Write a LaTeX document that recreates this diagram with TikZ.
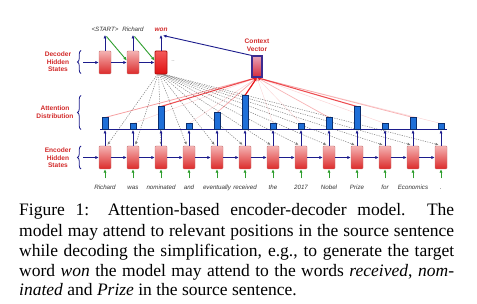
\documentclass[tikz,border=0pt]{standalone}
\usepackage{fontspec}
\setmainfont{Liberation Serif}
\newfontfamily\diag{Liberation Sans}
\usetikzlibrary{arrows.meta,decorations.pathreplacing,calc,backgrounds}
\definecolor{dblue}{HTML}{1C1C8C}
\definecolor{lred}{HTML}{D22A2A}
\definecolor{cellTop}{HTML}{F4B3B3}
\definecolor{cellBot}{HTML}{DC2A2A}
\definecolor{cellBorder}{HTML}{C87878}
\definecolor{wonTop}{HTML}{F45A5A}
\definecolor{wonBot}{HTML}{E01010}
\definecolor{wonBorder}{HTML}{B01010}
\definecolor{barblue}{HTML}{1F6FD8}
\definecolor{barBorder}{HTML}{0B2E6E}
\definecolor{dgreen}{HTML}{2E9E2E}
\definecolor{ctxBorder}{HTML}{3C2C90}
\definecolor{ctxTop}{HTML}{E6A3B8}
\definecolor{ctxBot}{HTML}{D42A3A}
\definecolor{wordgray}{HTML}{333333}
\definecolor{attred}{HTML}{E8161B}
\definecolor{dashgray}{HTML}{7A7A7A}
\begin{document}
\begin{tikzpicture}[x=1pt,y=-1pt,
  cell/.style={draw=cellBorder,line width=0.4pt,top color=cellTop,bottom color=cellBot,minimum width=12pt,minimum height=23pt,inner sep=0pt,rounded corners=1pt},
  woncell/.style={cell,draw=wonBorder,line width=0.8pt,top color=wonTop,bottom color=wonBot},
  ctxbox/.style={draw=ctxBorder,line width=1.2pt,top color=ctxTop,bottom color=ctxBot,minimum width=10pt,minimum height=21pt,inner sep=0pt},
  bar/.style={draw=barBorder,line width=0.5pt,fill=barblue,minimum width=6.5pt,inner sep=0pt,anchor=south},
  barrow/.style={-{Latex[length=3.5pt,width=3.2pt]},dblue,line width=1pt},
  garrow/.style={-{Latex[length=3.5pt,width=3.2pt]},dgreen,line width=0.9pt},
  darrow/.style={-{Latex[length=3pt,width=2.8pt]},dashgray,dash pattern=on 1.2pt off 1.2pt,line width=0.5pt},
  rarrow/.style={-{Latex[length=3.5pt,width=3.2pt]},attred},
  bracestyle/.style={decorate,decoration={brace,amplitude=3.5pt},dblue,line width=0.8pt},
  lbl/.style={text=lred,font=\diag\fontsize{6.6}{7.6}\selectfont\bfseries,align=center,inner sep=0pt},
  word/.style={text=wordgray,font=\diag\fontsize{6.2}{7}\selectfont\itshape,inner sep=0pt,anchor=base},
  capline/.style={font=\fontsize{17.5}{20}\selectfont,inner sep=0pt,anchor=base west}
]
\useasboundingbox (0,0) rectangle (477,304);

% decoder cells
\node[cell] (d1) at (105,62.5) {};
\node[cell] (d2) at (133,62.5) {};
\node[woncell] (d3) at (161,62.5) {};
\node[text=gray,font=\diag\fontsize{6}{6}\selectfont,inner sep=0pt] (dots) at (173,61) {..};
\coordinate (o1) at (105,35);
\coordinate (o2) at (133,35);
\coordinate (o3) at (161,35);
\node[word] (t1) at (105,32) {<START>};
\node[word] (t2) at (133,32) {Richard};
\node[word,text=lred,font=\diag\fontsize{6.5}{7}\selectfont\bfseries\itshape] (t3) at (161,32) {won};

% context vector
\node[ctxbox] (ctx) at (257,66.5) {};
\node[lbl] (ctxl) at (257,45.3) {Context\\Vector};

% encoder, bars, words
\coordinate (bls) at (100,130);
\coordinate (ble) at (447,130);
\foreach \i/\h/\txt in {1/12/Richard,2/6/was,3/23/nominated,4/6/and,5/17/eventually,6/34/received,7/6/the,8/6/2017,9/12/Nobel,10/23/Prize,11/6/for,12/12/Economics,13/6/.}{
  \pgfmathsetmacro\x{105+28*(\i-1)}
  \node[cell] (e\i) at (\x,157.5) {};
  \node[bar,minimum height=\h pt] (b\i) at (\x,130) {};
  \coordinate (g\i) at (\x,178.5);
  \node[word] (w\i) at (\x,190) {\txt};
  \draw[barrow] (e\i.north) -- (b\i.south);
  \draw[garrow] (g\i) -- (e\i.south);
}
\begin{pgfonlayer}{background}
% dashed attention queries
\foreach \i in {1,...,13}{
  \pgfmathsetmacro\s{ifthenelse(\i<3,2.5,ifthenelse(\i==3,0,-2.5))}
  \pgfmathsetmacro\st{(\i-7)*0.6}
  \draw[darrow] ($(d3.south)+(\st,0)$) -- ($(e\i.north)+(\s,-1)$);
}
% red weighted lines
\foreach \i/\w in {1/0.55,2/0.2,3/0.85,4/0.2,5/0.5,6/1,7/0.15,8/0.15,9/0.45,10/0.85,11/0.2,12/0.45,13/0.2}{
  \pgfmathsetmacro\lw{0.3+0.9*\w}
  \pgfmathsetmacro\op{0.15+0.85*\w*\w}
  \draw[rarrow,line width=\lw pt,draw opacity=\op,fill opacity=\op] (b\i.north) -- (ctx.south);
}
\draw[dblue,line width=1pt] (bls) -- (ble);
\end{pgfonlayer}
\foreach \i [evaluate=\i as \j using int(\i+1)] in {1,...,12}{
  \draw[barrow] (e\i.east) -- (e\j.west);
}
\coordinate (ein) at (83,157.5);
\draw[barrow] (ein) -- (e1.west);

% decoder arrows
\coordinate (din) at (83,62.5);
\draw[barrow] (din) -- (d1.west);
\draw[barrow] (d1.east) -- (d2.west);
\draw[barrow] (d2.east) -- (d3.west);
\draw[barrow] (d1.north) -- (o1);
\draw[barrow] (d2.north) -- (o2);
\draw[barrow] (d3.north) -- (o3);
\draw[garrow] ($(o1)+(1.5,1.5)$) -- ($(d2.west)+(0,-2)$);
\draw[garrow] ($(o2)+(1.5,1.5)$) -- ($(d3.west)+(0,-2)$);
\draw[-{Latex[length=3.5pt,width=3.2pt]},dblue,line width=0.9pt] (ctx.north west) -- ($(o3)+(2,0.5)$);

% braces and labels
\draw[bracestyle] (81,73.5) -- (81,50.5);
\draw[bracestyle] (81,129.5) -- (81,95.5);
\draw[bracestyle] (81,169) -- (81,146);
\node[lbl] (ldec) at (58,61.7) {Decoder\\Hidden\\States};
\node[lbl] (latt) at (55,112) {Attention\\Distribution};
\node[lbl] (lenc) at (58,158) {Encoder\\Hidden\\States};

% caption
\node[capline] (c1) at (19,216) {\makebox[435pt][s]{Figure 1: Attention-based encoder-decoder model.\ \ The}};
\node[capline] (c2) at (19,236.5) {\makebox[435pt][s]{model may attend to relevant positions in the source sentence}};
\node[capline] (c3) at (19,256.5) {\makebox[435pt][s]{while decoding the simplification, e.g., to generate the target}};
\node[capline] (c4) at (19,276.5) {\makebox[435pt][s]{word \textit{won} the model may attend to the words \textit{received}, \textit{nom-}}};
\node[capline] (c5) at (19,296) {\textit{inated} and \textit{Prize} in the source sentence.};
\end{tikzpicture}
\end{document}
